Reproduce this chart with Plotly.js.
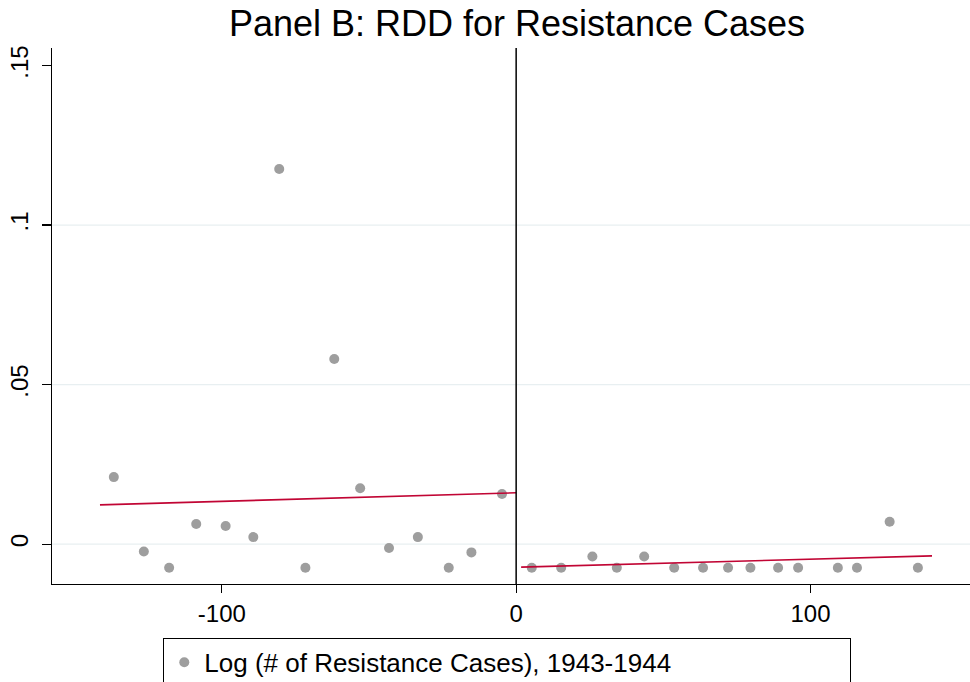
<!DOCTYPE html>
<html>
<head>
<meta charset="utf-8">
<script src="https://cdn.plot.ly/plotly-3.0.1.min.js"></script>
<style>html,body{margin:0;padding:0;background:#fff;}#chart{width:970px;height:682px;}</style>
</head>
<body>
<div id="chart"></div>
<script>
// Binned scatter points (distance to border, mean outcome)
const leftX = [-136.7, -126.5, -117.9, -108.7, -98.7, -89.3, -80.5, -71.6, -61.8, -53.0, -43.2, -33.4, -22.9, -15.2, -4.8];
const leftY = [0.0210, -0.0023, -0.0074, 0.0063, 0.0057, 0.0022, 0.1176, -0.0074, 0.0580, 0.0175, -0.0012, 0.0022, -0.0074, -0.0026, 0.0157];
const rightX = [5.3, 15.3, 25.9, 34.2, 43.5, 53.7, 63.5, 72.0, 79.6, 89.0, 95.8, 109.3, 115.8, 126.9, 136.5];
const rightY = [-0.0074, -0.0074, -0.0039, -0.0074, -0.0039, -0.0074, -0.0074, -0.0074, -0.0074, -0.0074, -0.0074, -0.0074, -0.0074, 0.0070, -0.0074];
// Linear fits on each side of the cutoff
const fitLeftX = [-141.4, 0];
const fitLeftY = [0.0123, 0.0161];
const fitRightX = [1.7, 141.3];
const fitRightY = [-0.0072, -0.0037];
// Axis ticks
const xTicks = [-100, 0, 100];
const xTickText = ["-100", "0", "100"];
const yTicks = [0, 0.05, 0.1, 0.15];
const yTickText = ["0", ".05", ".1", ".15"];
const yGrid = [0, 0.05, 0.1];
const cutoff = 0;
const seriesName = "Log (# of Resistance Cases), 1943-1944";
const titleText = "Panel B: RDD for Resistance Cases";

const FONT = "'Liberation Sans', Arial, Helvetica, sans-serif";
const dotColor = "#9e9e9e";
const fitColor = "#c10534";

const traces = [
  {x: leftX.concat(rightX), y: leftY.concat(rightY), type: "scatter", mode: "markers",
   name: seriesName, marker: {color: dotColor, size: 10}, showlegend: true},
  {x: fitLeftX, y: fitLeftY, type: "scatter", mode: "lines", line: {color: fitColor, width: 1.6}, showlegend: false, hoverinfo: "skip"},
  {x: fitRightX, y: fitRightY, type: "scatter", mode: "lines", line: {color: fitColor, width: 1.6}, showlegend: false, hoverinfo: "skip"}
];

const shapes = yGrid.map(v => ({type: "line", xref: "paper", x0: 0, x1: 1, yref: "y", y0: v, y1: v,
  line: {color: "#e8eff1", width: 1.2}, layer: "below"}));
shapes.push({type: "line", xref: "x", x0: cutoff, x1: cutoff, yref: "paper", y0: 0, y1: 1,
  line: {color: "#000", width: 1.5}, layer: "above"});

const layout = {
  width: 970, height: 682,
  margin: {l: 52, r: 0, t: 48, b: 98, autoexpand: false},
  paper_bgcolor: "#fff", plot_bgcolor: "#fff",
  font: {family: FONT, color: "#000", size: 24},
  title: {text: titleText, font: {family: FONT, size: 36, color: "#000"},
          x: 0.533, xref: "container", xanchor: "center", y: 0.966, yref: "container", yanchor: "middle"},
  xaxis: {range: [-157.7, 154.2], tickvals: xTicks, ticktext: xTickText, ticks: "outside", ticklen: 8,
          tickwidth: 1.2, tickcolor: "#000", showline: true, linecolor: "#000", linewidth: 1.2,
          showgrid: false, zeroline: false, tickfont: {size: 24}, automargin: false},
  yaxis: {range: [-0.0125, 0.1555], tickvals: yTicks, ticktext: yTickText, ticks: "outside", ticklen: 9,
          tickwidth: 1.2, tickcolor: "#000", showline: true, linecolor: "#000", linewidth: 1.2,
          showgrid: false, zeroline: false, tickangle: -90, tickfont: {size: 24}, ticklabelstandoff: 4, automargin: false},
  showlegend: true,
  legend: {orientation: "h", x: 0.121, xanchor: "left", y: -0.1, yanchor: "top",
           bordercolor: "#000", borderwidth: 1.2, bgcolor: "#fff",
           font: {family: FONT, size: 26}, entrywidth: 640, entrywidthmode: "pixels", itemsizing: "trace"},
  shapes: shapes
};

Plotly.newPlot("chart", traces, layout, {displayModeBar: false, staticPlot: true});
</script>
</body>
</html>
